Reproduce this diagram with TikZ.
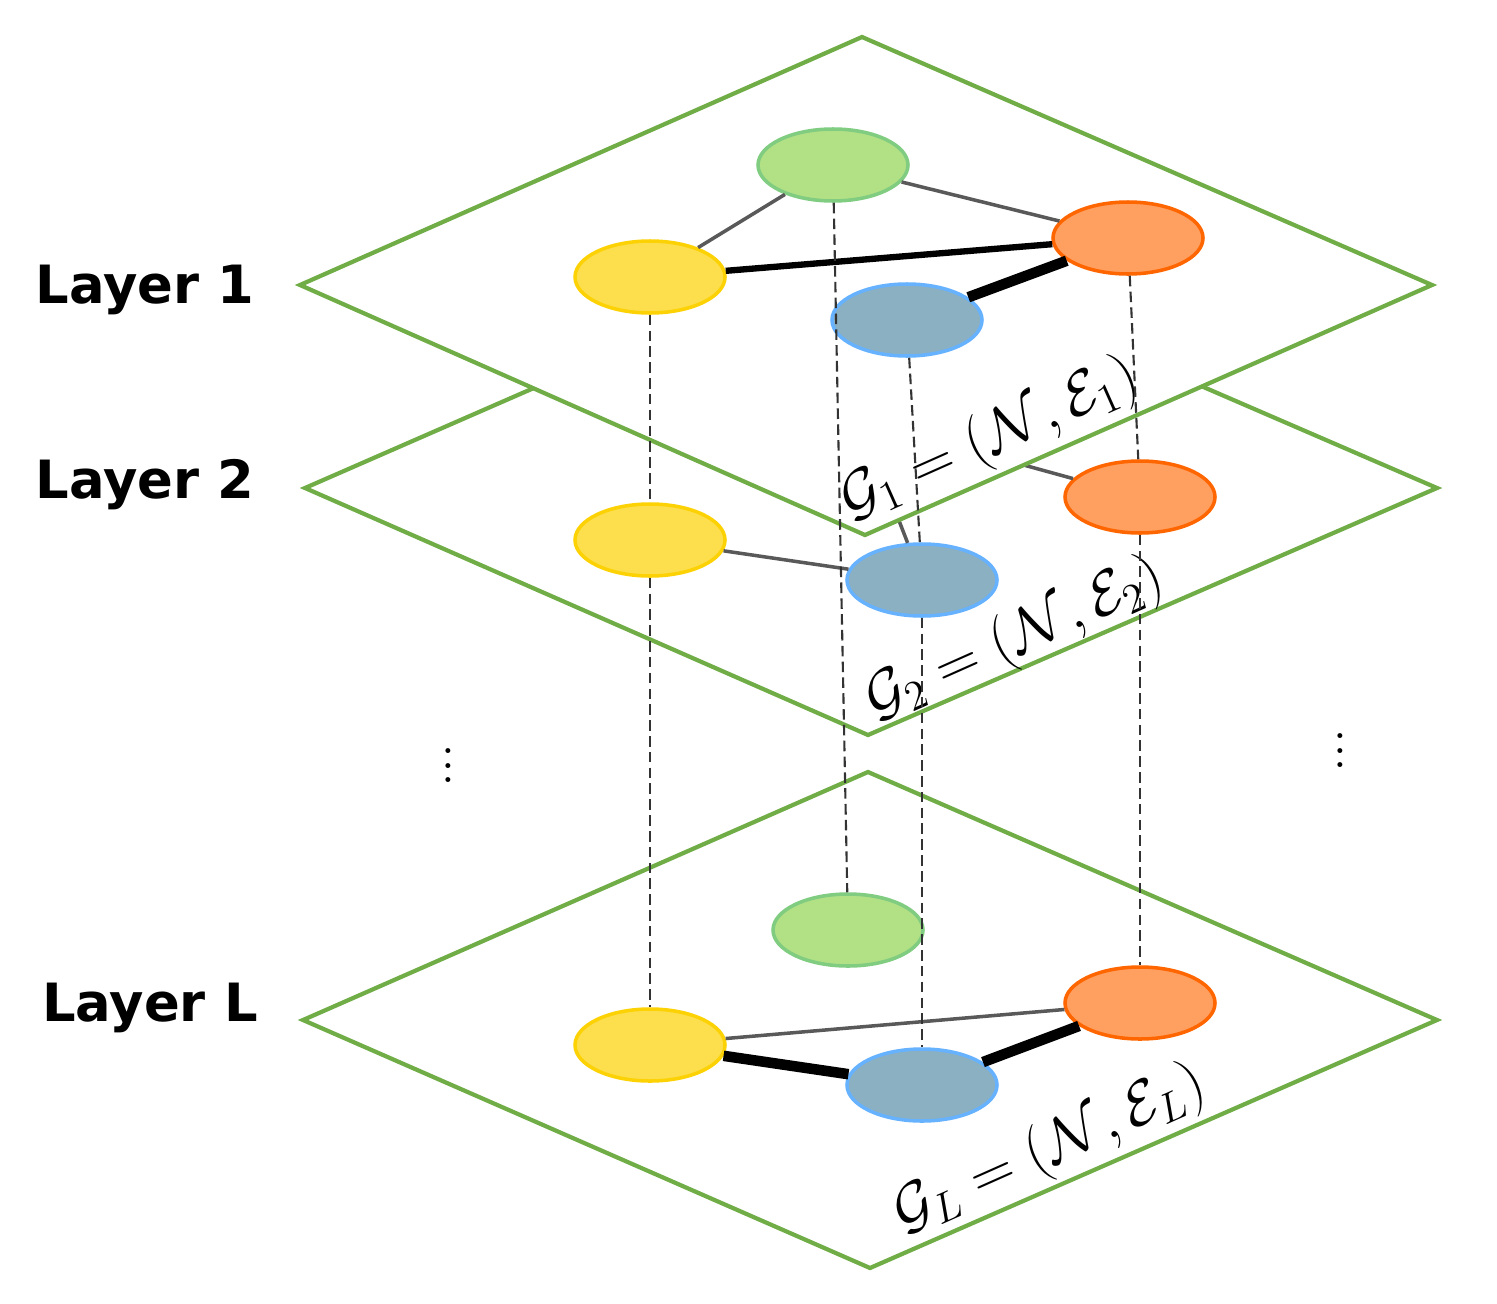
\documentclass[tikz,border=0pt]{standalone}
\usetikzlibrary{shapes.geometric}
\usepackage{fontspec}
\newfontfamily\lab{DejaVu Sans}
\begin{document}
\begin{tikzpicture}[x=0.01cm,y=-0.01cm,
 layer/.style={line width=1.2pt, fill=white},
 nd/.style={ellipse, minimum width=150*0.01cm, minimum height=72*0.01cm, line width=1pt, inner sep=0pt},
 gr/.style={nd, fill=green!35!lime!60!gray!60, draw=green!60!black!50},
 og/.style={nd, fill=orange!50!pink, draw=orange!80!red},
 bl/.style={nd, fill=blue!30!cyan!30!gray!70, draw=blue!50!cyan!60},
 ye/.style={nd, fill=yellow!70!orange!70, draw=yellow!70!orange},
 thin e/.style={gray!70!black, line width=1pt},
 mid e/.style={black, line width=1.8pt},
 thick e/.style={black, line width=3pt},
 dl/.style={dashed, dash pattern=on 3pt off 1.5pt, line width=0.6pt, black!80},
 ll/.style={font=\lab\bfseries\fontsize{15}{17}\selectfont},
 gl/.style={font=\fontsize{17}{19}\selectfont, rotate=24}]
\definecolor{lg}{HTML}{70AD47}
\useasboundingbox (0,0) rectangle (1497,1303);
% Layer L
\draw[layer, draw=lg] (303,1020) -- (868,772) -- (1437,1020) -- (870,1268) -- cycle;
\node[gr] (gL) at (848,930) {};
\node[ye] (yL) at (650,1045) {};
\node[bl] (bL) at (922,1085) {};
\node[og] (oL) at (1140,1003) {};
\draw[thin e] (yL) -- (oL);
\draw[thick e] (yL) -- (bL);
\draw[thick e] (bL) -- (oL);
\node[gl] at (1050,1150) {$\mathcal{G}_L=(\mathcal{N},\mathcal{E}_L)$};
% Layer 2
\draw[layer, draw=lg] (305,488) -- (868,242) -- (1437,488) -- (868,735) -- cycle;
\coordinate (g2) at (860,420);
\node[ye] (y2) at (650,540) {};
\node[bl] (b2) at (922,580) {};
\node[og] (o2) at (1140,497) {};
\draw[thin e] (y2) -- (b2);
\draw[thin e] (o2) -- (g2);
\draw[thin e] (b2) -- (g2);
\node[gl] at (1015,640) {$\mathcal{G}_2=(\mathcal{N},\mathcal{E}_2)$};
% Layer 1
\draw[layer, draw=lg] (300,285) -- (862,37) -- (1432,285) -- (865,535) -- cycle;
\node[gr] (g1) at (833,165) {};
\node[ye] (y1) at (650,277) {};
\node[bl] (b1) at (907,320) {};
\node[og] (o1) at (1128,238) {};
\draw[thin e] (g1) -- (y1);
\draw[thin e] (g1) -- (o1);
\draw[mid e] (y1) -- (o1);
\draw[thick e] (b1) -- (o1);
\node[gl] at (990,440) {$\mathcal{G}_1=(\mathcal{N},\mathcal{E}_1)$};
% dashed
\draw[dl] (y1) -- (y2); \draw[dl] (y2) -- (yL);
\draw[dl] (b1) -- (b2); \draw[dl] (b2) -- (bL);
\draw[dl] (o1) -- (o2); \draw[dl] (o2) -- (oL);
\draw[dl] (g1) -- (gL);
% labels
\node[ll] (l1) at (145,290) {Layer 1};
\node[ll] (l2) at (145,485) {Layer 2};
\node[ll] (lL) at (150,1008) {Layer L};
\node[font=\Large] (d1) at (448,755) {$\vdots$};
\node[font=\Large] (d2) at (1340,740) {$\vdots$};
\end{tikzpicture}
\end{document}
